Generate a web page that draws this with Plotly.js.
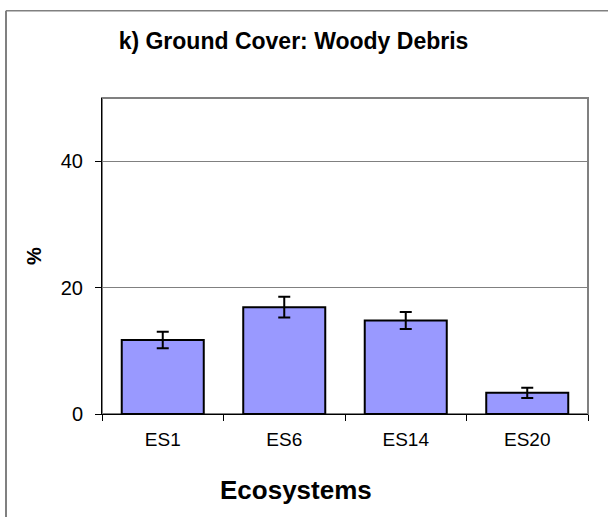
<!DOCTYPE html>
<html>
<head>
<meta charset="utf-8">
<script src="https://cdn.plot.ly/plotly-3.0.1.min.js"></script>
<style>html,body{margin:0;padding:0;background:#fff;}</style>
</head>
<body>
<div id="chart" style="width:608px;height:517px;"></div>
<script>
const categories = ["ES1", "ES6", "ES14", "ES20"];
const values = [11.7, 16.9, 14.8, 3.35];
const errors = [1.3, 1.65, 1.35, 0.8];
const yTicks = [0, 20, 40];

const trace = {
  type: "bar",
  x: categories,
  y: values,
  marker: { color: "#9999FF", line: { color: "#000000", width: 2 } },
  error_y: { type: "data", array: errors, visible: true, color: "#000000", thickness: 2, width: 6 },
  hoverinfo: "skip"
};

const layout = {
  width: 608,
  height: 517,
  margin: { l: 102, r: 20, t: 98, b: 103, pad: 0 },
  paper_bgcolor: "#ffffff",
  plot_bgcolor: "#ffffff",
  bargap: 0.325,
  showlegend: false,
  font: { family: "Liberation Sans, Arial, sans-serif", color: "#000000" },
  title: {
    text: "<b>k) Ground Cover: Woody Debris</b>",
    font: { size: 23, family: "Liberation Sans, Arial, sans-serif", color: "#000" },
    x: 293.5 / 608, xanchor: "center", xref: "container",
    y: 1 - 40.5 / 517, yanchor: "middle", yref: "container"
  },
  xaxis: {
    type: "category",
    tickfont: { size: 19 },
    ticks: "outside", ticklen: 6, tickcolor: "#000", tickwidth: 1,
    tickson: "boundaries",
    ticklabelstandoff: 8,
    showline: true, linecolor: "#000", linewidth: 1,
    showgrid: false, zeroline: false
  },
  yaxis: {
    range: [0, 50],
    tickvals: yTicks,
    ticktext: yTicks.map(String),
    tickfont: { size: 20 },
    ticks: "outside", ticklen: 6, tickcolor: "#000", tickwidth: 1,
    ticklabelstandoff: 8,
    showline: true, linecolor: "#000", linewidth: 1,
    showgrid: true, gridcolor: "#808080", gridwidth: 1,
    zeroline: false,
    title: { text: "<b>%</b>", font: { size: 20 }, standoff: 13 }
  },
  annotations: [
    { text: "<b>Ecosystems</b>", font: { size: 26, color: "#000" }, showarrow: false,
      xref: "paper", yref: "paper",
      x: (296 - 102) / 486, y: (414.5 - 491) / 316.5,
      xanchor: "center", yanchor: "middle" }
  ],
  shapes: [
    { type: "rect", xref: "paper", yref: "paper", x0: 0, x1: 1, y0: 0, y1: 1,
      line: { color: "#808080", width: 2 }, layer: "below" },
    { type: "line", xref: "paper", yref: "paper", x0: (6 - 102) / 486, x1: (6 - 102) / 486,
      y0: (414.5 - 530) / 316.5, y1: (414.5 - 10.5) / 316.5,
      line: { color: "#808080", width: 2 } },
    { type: "line", xref: "paper", yref: "paper", x0: (6 - 102) / 486, x1: (620 - 102) / 486,
      y0: (414.5 - 10.5) / 316.5, y1: (414.5 - 10.5) / 316.5,
      line: { color: "#808080", width: 1.5 } }
  ]
};

Plotly.newPlot("chart", [trace], layout, { staticPlot: true, displayModeBar: false });
</script>
</body>
</html>
